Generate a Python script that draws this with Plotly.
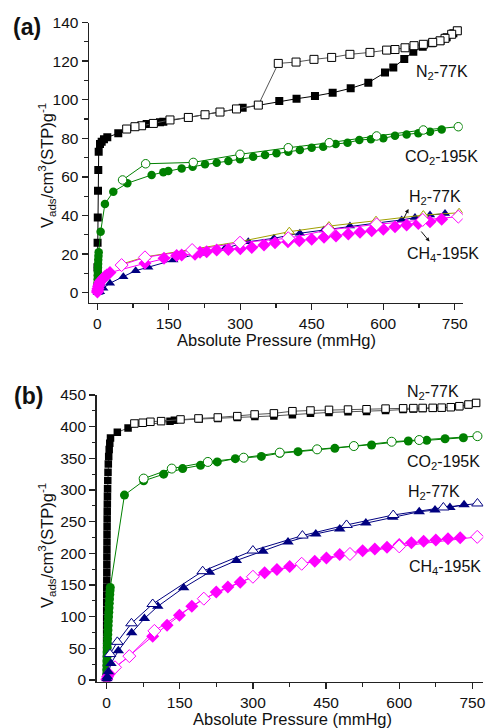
import plotly.graph_objects as go

# ---------------- Panel (a) data ----------------
a_n2_ads_p = [0.1,0.3,0.6,1.0,1.5,2.1,2.9,5.7,9.2,14,21,44,103.6,131.5,138.5,191,305,337.8,381.8,418,
              456.7,493.8,531.6,568.6,603.6,621,644,663,682.7,701.6,720,733,747,755.3]
a_n2_ads_v = [3,13.2,25.9,39,52.8,63.6,73,77,78.2,79.5,80.5,82.6,87.4,88.3,88.6,90.8,95.8,97.2,99.3,100.5,
              101.9,103.6,105.9,108.8,114.1,116.7,121.1,124.8,127.4,129.2,130.5,132.3,134.4,135.7]
a_n2_des_p = [755.3,743.5,729.5,719,703.7,684,664.4,645.6,624.6,607,572,530,491.7,454.6,417,379.7,337.8,
              292,257.4,226,191,152.5,117.6,93,79,61.6]
a_n2_des_v = [135.7,133.9,131.8,130.5,129.7,128.7,128,126.9,126,125.7,124.5,123.5,121.9,120.9,119.5,118.8,97.2,
              95.2,93.6,92.2,90.8,89.5,87.7,86.5,86,84.8]

a_co2_ads_p = [0.2,0.3,0.5,0.7,0.9,1.1,1.4,1.7,2.0,2.4,2.9,7,16,33.6,63,114,138.5,149,177,200,226,250.5,275,
               299.4,327,352,376,400.7,425,449.8,474,500,525,549.7,574,600,624.6,649,673.5,698,722.5]
a_co2_ads_v = [1,3,5,7,9,11,13,15,17,19,21,31.6,46,52.3,56.7,61,62.4,63,64.4,65.3,66.5,67.3,68.2,
               69.1,70.4,71.3,72.2,73,73.9,75.1,75.6,77,77.7,79.1,79.5,80,81.3,82,82.6,83.4,84.6]
a_co2_des_p = [757.4,684,586,486.7,400.7,299.4,201.4,101.5,53]
a_co2_des_v = [86,84.3,81.2,77.7,75.1,71.7,67.5,66.8,58.4]

a_h2_ads_p = [1,3,5.7,12.6,26.6,54.6,80.5,107,159.5,215.5,268,316.8,370.7,425,475.6,530,583,638.6,666.5,698,729.5]
a_h2_ads_v = [0.1,0.3,0.5,2.3,4.9,8.3,11.4,13.2,16.9,20.4,23,26.4,28.2,30.8,32.5,34.5,36,37.7,39,40.2,41]
a_h2_des_p = [759,684,584.7,486,402.8,300,200,100,51]
a_h2_des_v = [41.4,40.2,37.3,34.5,31.6,26.5,22.5,18.5,14.8]

a_ch4_ads_p = [0.3,0.8,1.5,2.5,4,6,9,12.6,16,19.7,26.6,100,140,166.6,177,205,215.5,229.5,250.5,275,
               300,324,349.7,372.8,400,423.8,449.8,475.6,500.8,526.6,551.2,575.7,600,624.6,649,673.5,698,722.5]
a_ch4_ads_v = [0.3,1.2,2.2,3.3,4.5,5.6,6.6,7.5,8.4,9.2,10.4,15.2,17.8,19.2,19.5,19.9,20.9,21.2,22.1,22.4,
               22.8,23.4,24.7,25.9,26.4,26.9,27.7,28.7,29.4,30.4,31.3,32.1,32.8,34.2,35.1,35.9,36.8,38]
a_ch4_des_p = [757.4,682.7,586,484.7,400.7,299.4,199,100,51]
a_ch4_des_v = [39.4,37.7,35.4,32.5,28.2,25.9,22.1,18.3,14.3]

# ---------------- Panel (b) data ----------------
b_n2_ads_p = [0.01,0.02,0.03,0.05,0.07,0.09,0.12,0.15,0.18,0.22,0.26,0.3,0.35,0.4,0.46,0.52,0.6,0.68,0.77,0.87,
              1.0,1.15,1.3,1.5,1.75,2.0,2.4,2.9,3.5,4.3,5.3,6.5,8.0,
              22,44,130,139,190,228,268,304,343,381,418,456,495,533,572,608,629,648,669,687,706,723,742,758]
b_n2_ads_v = [2,14,26,38,50,62,74,86,98,110,122,134,146,158,170,182,194,206,218,230,
              242,254,266,278,290,302,315,328,341,353,364,374,382,
              391,398,408.7,410,412,413,414.5,416,417,419,421,422.5,423.5,424,425.5,427,428,428.5,429,429.5,430.5,432,434.5,437.5]
b_n2_des_p = [757.7,742,723.4,705.7,687,668.7,648,629,608,572,533,495,456,418,381,343,303.5,268,228,188.4,151.5,111.8,89.8,74,57]
b_n2_des_v = [437.5,435,432.3,430.7,430,429.7,429.5,429.3,429,428.5,427.5,427,426.5,425.5,424.4,421,419.3,416.6,414.5,413,411.4,408.7,407.7,406.2,405]

b_co2_ads_p = [0.1,0.2,0.3,0.5,0.7,0.9,1.1,1.4,1.7,2.0,2.4,2.8,3.2,3.6,4.0,4.5,5.0,5.5,6.0,6.5,7.0,7.5,
               36.6,76,117,156,192.6,226.9,263.9,317.3,355,392.5,468,543.3,618.6,656.4,694,731.6]
b_co2_ads_v = [2,9,16,23,30,37,44,51,58,65,72,79,86,93,100,107,114,121,128,135,141,146,
               292,314.4,325,333.8,339,344.3,349.5,353,358,360.5,365.8,371,377.3,378.4,381,382.5]
b_co2_des_p = [760.4,641,584.5,507,431.6,355,281,207.6,133.6,76]
b_co2_des_v = [385,378.9,376.2,369.4,364.2,359,351,344.3,333.8,318]

b_h2_ads_p = [0.5,1.5,3.5,9,24,51.4,77.5,105,158,211,266,320.6,372,429,478,531.6,587,641,673.4,704,733]
b_h2_ads_v = [2,5.2,13,26,46,74.4,97,116.3,145.7,170.3,188.6,203.3,218,230.6,238.5,247.9,257,265.7,268.3,272.4,276.7]
b_h2_des_p = [760.4,690.5,587.7,492,401.5,300,197,94.5,51,22,7]
b_h2_des_v = [278.7,272.4,260.5,244.8,228,204.4,171.8,120,89.5,60.2,40.9]

b_ch4_ads_p = [0.5,2,5,9,12.3,94.5,124,149.4,174.7,224.8,248.7,274,324,349.3,375.4,426.8,450.8,478,
               525,550,575,600,625,650,675,700,725]
b_ch4_ads_v = [1,5,9,13,16,69.2,86.5,102.2,116.3,138.8,146.7,154.5,169.5,174.5,179.2,187.5,192.8,198,
               204,207,209.5,214,216.5,219,221,223,224.5]
b_ch4_des_p = [760,600,499,400,300,199.3,98,46.6,17.3]
b_ch4_des_v = [226,211,199,183.5,163,128.4,77.5,37.7,20]

x_ticks = [0,150,300,450,600,750]

BLACK = "#000000"
GREEN = "#008000"
BLUE = "#000080"
MAGENTA = "#FF00FF"
OLIVE = "#A0A000"
FONT = "Arial, Liberation Sans, sans-serif"

fig = go.Figure()

def add(p, v, color, symbol, size, filled, xa, ya, line_color=None, line_w=1):
    fig.add_trace(go.Scatter(
        x=p, y=v, mode="lines+markers", xaxis=xa, yaxis=ya, showlegend=False, hoverinfo="skip",
        line=dict(color=line_color or color, width=line_w),
        marker=dict(symbol=symbol, size=size,
                    color=color if filled else "white",
                    line=dict(color=color, width=1 if not filled else 0)),
    ))

# panel a
add(a_n2_ads_p, a_n2_ads_v, BLACK, "square", 8, True, "x", "y")
add(a_n2_des_p, a_n2_des_v, BLACK, "square", 8, False, "x", "y", line_color="#555555")
add(a_co2_ads_p, a_co2_ads_v, GREEN, "circle", 8.5, True, "x", "y")
add(a_co2_des_p, a_co2_des_v, GREEN, "circle", 8.5, False, "x", "y")
add(a_h2_ads_p, a_h2_ads_v, BLUE, "triangle-up", 9, True, "x", "y")
add(a_h2_des_p, a_h2_des_v, OLIVE, "triangle-up", 9, False, "x", "y")
add(a_ch4_ads_p, a_ch4_ads_v, MAGENTA, "diamond", 10, True, "x", "y")
add(a_ch4_des_p, a_ch4_des_v, MAGENTA, "diamond", 10, False, "x", "y")

# panel b
add(b_n2_ads_p, b_n2_ads_v, BLACK, "square", 7.5, True, "x2", "y2", line_color="#555555")
add(b_n2_des_p, b_n2_des_v, BLACK, "square", 7.5, False, "x2", "y2", line_color="#555555")
add(b_co2_ads_p, b_co2_ads_v, GREEN, "circle", 9, True, "x2", "y2")
add(b_co2_des_p, b_co2_des_v, GREEN, "circle", 9, False, "x2", "y2")
add(b_ch4_ads_p, b_ch4_ads_v, MAGENTA, "diamond", 10, True, "x2", "y2")
add(b_ch4_des_p, b_ch4_des_v, MAGENTA, "diamond", 10, False, "x2", "y2")
add(b_h2_ads_p, b_h2_ads_v, BLUE, "triangle-up", 10, True, "x2", "y2")
add(b_h2_des_p, b_h2_des_v, BLUE, "triangle-up", 10, False, "x2", "y2")

W, H = 488, 728
def px(x): return x / W
def py(y): return 1 - y / H

axis_common = dict(showline=True, linecolor="#222222", linewidth=1.5, ticks="outside",
                   ticklen=6, tickwidth=1.3, tickcolor="#222222", showgrid=False, zeroline=False,
                   automargin=False,
                   tickfont=dict(family=FONT, size=15.5, color="#111111"), mirror=False)

fig.update_layout(
    width=W, height=H, margin=dict(l=0, r=0, t=0, b=0, pad=0),
    paper_bgcolor="white", plot_bgcolor="white", hovermode=False,
    xaxis=dict(domain=[px(89), px(462.7)], range=[-17.4, 766.6], anchor="y",
               tickvals=x_ticks, minor=dict(ticks="outside", ticklen=3.5, dtick=75, tick0=0, tickcolor="#222222"),
               **axis_common),
    yaxis=dict(domain=[py(302.7), py(22.5)], range=[-5.2, 140], anchor="x", dtick=20,
               minor=dict(ticks="outside", ticklen=3.5, dtick=10, tickcolor="#222222"), **axis_common),
    xaxis2=dict(domain=[px(96.7), px(483.3)], range=[-20.3, 772.4], anchor="y2",
                tickvals=x_ticks, minor=dict(ticks="outside", ticklen=3.5, dtick=75, tick0=0, tickcolor="#222222"),
                **axis_common),
    yaxis2=dict(domain=[py(681.5), py(395)], range=[-2.4, 450], anchor="x2", dtick=50,
                minor=dict(ticks="outside", ticklen=3.5, dtick=25, tickcolor="#222222"), **axis_common),
)

ann = []
def label(text, x, y, size=16, bold=False, angle=0):
    ann.append(dict(text=("<b>%s</b>" % text) if bold else text, x=px(x), y=py(y), xref="paper", yref="paper",
                    showarrow=False, xanchor="center", yanchor="middle", textangle=angle,
                    font=dict(family=FONT, size=size, color="#111111")))

label("(a)", 27, 27, size=23, bold=True)
label("(b)", 28, 396, size=23, bold=True)
label("N<sub>2</sub>-77K", 442, 73)
label("CO<sub>2</sub>-195K", 441, 157)
label("H<sub>2</sub>-77K", 435, 198)
label("CH<sub>4</sub>-195K", 443, 254)
label("N<sub>2</sub>-77K", 433, 392)
label("CO<sub>2</sub>-195K", 443, 462)
label("H<sub>2</sub>-77K", 434, 492)
label("CH<sub>4</sub>-195K", 445, 567)
label("Absolute Pressure (mmHg)", 276, 340, size=16.5)
label("Absolute Pressure (mmHg)", 292, 719, size=16.5)
ytitle = "V<sub>ads</sub>/cm<sup>3</sup>(STP)g<sup>-1</sup>"
label(ytitle, 47, 166, size=16.5, angle=-90)
label(ytitle, 47, 546, size=16.5, angle=-90)

# arrows in panel a
ann.append(dict(x=652.9, y=43.4, xref="x", yref="y", ax=-6, ay=12, text="", showarrow=True,
                arrowhead=2, arrowsize=0.8, arrowwidth=1, arrowcolor="#111111"))
ann.append(dict(x=697, y=26.5, xref="x", yref="y", ax=-9.5, ay=-11.5, text="", showarrow=True,
                arrowhead=2, arrowsize=0.8, arrowwidth=1, arrowcolor="#111111"))

fig.update_layout(annotations=ann)
fig.write_html("out.html", config={"displayModeBar": False, "staticPlot": True},
               post_script="document.body.style.margin='0';document.body.style.overflow='hidden';"
                           "document.documentElement.style.overflow='hidden';")
